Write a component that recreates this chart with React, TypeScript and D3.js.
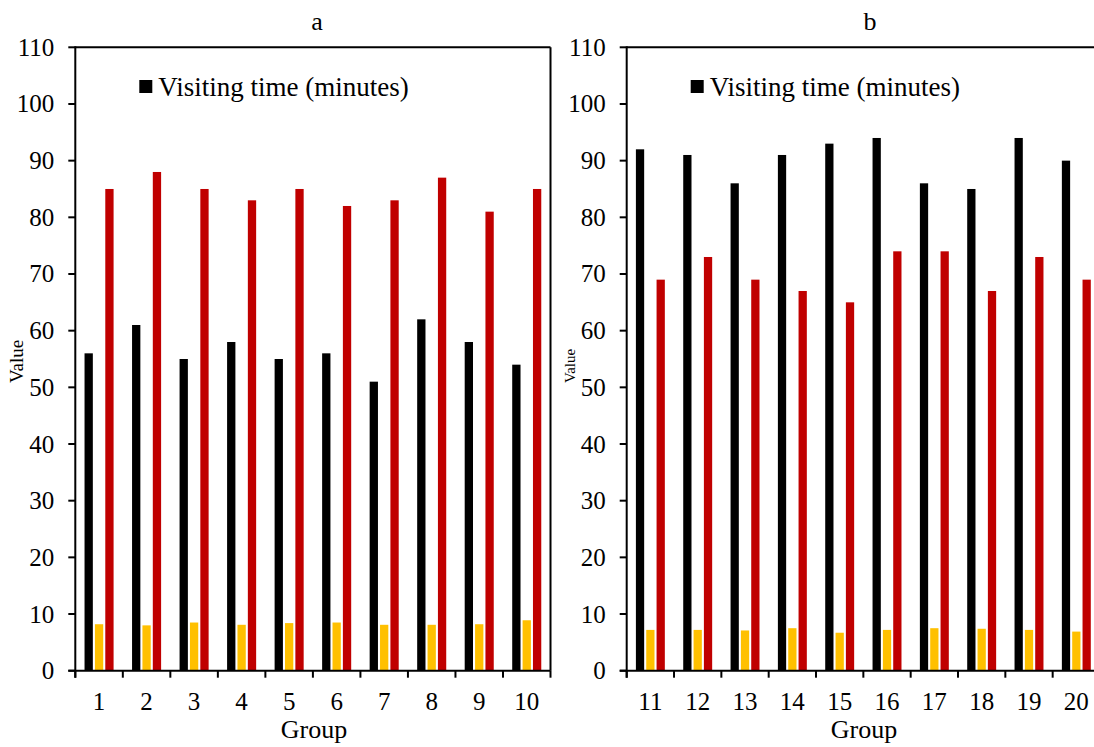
import React from "react";
import * as d3 from "d3";

const groupsA = ["1", "2", "3", "4", "5", "6", "7", "8", "9", "10"];
const groupsB = ["11", "12", "13", "14", "15", "16", "17", "18", "19", "20"];

const visitA = [56, 61, 55, 58, 55, 56, 51, 62, 58, 54];
const yellowA = [8.2, 8.0, 8.5, 8.1, 8.4, 8.5, 8.1, 8.1, 8.2, 8.9];
const redA = [85, 88, 85, 83, 85, 82, 83, 87, 81, 85];

const visitB = [92, 91, 86, 91, 93, 94, 86, 85, 94, 90];
const yellowB = [7.2, 7.2, 7.1, 7.5, 6.7, 7.2, 7.5, 7.4, 7.2, 6.9];
const redB = [69, 73, 69, 67, 65, 74, 74, 67, 73, 69];

const yTicks = [0, 10, 20, 30, 40, 50, 60, 70, 80, 90, 100, 110];
const seriesKeys = ["visit", "yellow", "red"];
const seriesColors: Record<string, string> = { visit: "#000000", yellow: "#FFC000", red: "#C00000" };
const legendLabel = "Visiting time (minutes)";

const FONT = "'Liberation Serif', 'Times New Roman', serif";

type PanelProps = {
  title: string;
  groups: string[];
  series: Record<string, number[]>;
  x0: number;
  x1: number;
  titleX: number;
  groupX: number;
  valueSize: number;
};

const yTop = 47.3;
const yBottom = 670.7;

function Panel({ title, groups, series, x0, x1, titleX, groupX, valueSize }: PanelProps) {
  const y = d3.scaleLinear().domain([0, 110]).range([yBottom, yTop]);
  const x = d3.scaleBand<string>().domain(groups).range([x0, x1]).paddingInner(0).paddingOuter(0);
  const inner = d3
    .scaleBand<string>()
    .domain(seriesKeys)
    .range([0, x.bandwidth()])
    .paddingInner(0.2)
    .paddingOuter(0.89);
  const boundaries = groups.map((g) => x(g) as number).concat([x1]);
  return (
    <g>
      <text x={titleX} y={30} fontSize={26} fontFamily={FONT} textAnchor="middle">
        {title}
      </text>
      {groups.map((g, i) =>
        seriesKeys.map((k) => {
          const v = series[k][i];
          return (
            <rect
              key={g + k}
              x={(x(g) as number) + (inner(k) as number)}
              y={y(v)}
              width={inner.bandwidth()}
              height={y(0) - y(v)}
              fill={seriesColors[k]}
            />
          );
        })
      )}
      <line x1={x0} x2={x1} y1={yTop} y2={yTop} stroke="#000" strokeWidth={2} />
      <line x1={x1} x2={x1} y1={yTop} y2={yBottom} stroke="#000" strokeWidth={2} />
      <line x1={x0} x2={x0} y1={yTop - 1} y2={yBottom + 7} stroke="#000" strokeWidth={2} />
      <line x1={x0 - 7} x2={x1} y1={yBottom} y2={yBottom} stroke="#000" strokeWidth={2} />
      {yTicks.map((t) => (
        <g key={t}>
          <line x1={x0 - 7} x2={x0} y1={y(t)} y2={y(t)} stroke="#000" strokeWidth={2} />
          <text
            x={x0 - 21}
            y={y(t)}
            dy="0.34em"
            fontSize={25}
            fontFamily={FONT}
            textAnchor="end"
          >
            {t}
          </text>
        </g>
      ))}
      {boundaries.map((b, i) => (
        <line key={i} x1={b} x2={b} y1={yBottom} y2={yBottom + 7} stroke="#000" strokeWidth={2} />
      ))}
      {groups.map((g) => (
        <text
          key={g}
          x={(x(g) as number) + x.bandwidth() / 2}
          y={709.5}
          fontSize={25}
          fontFamily={FONT}
          textAnchor="middle"
        >
          {g}
        </text>
      ))}
      <text x={groupX} y={738} fontSize={26} fontFamily={FONT} textAnchor="middle">
        Group
      </text>
      <text
        transform={`translate(${x0 - 52},383) rotate(-90)`}
        fontSize={valueSize}
        fontFamily={FONT}
        textAnchor="start"
      >
        Value
      </text>
      <rect x={x0 + 64} y={80} width={13} height={13} fill={seriesColors.visit} />
      <text x={x0 + 83} y={96} fontSize={27} fontFamily={FONT}>
        {legendLabel}
      </text>
    </g>
  );
}

export default function App() {
  return (
    <svg
      width={1094}
      height={747}
      style={{ position: "absolute", left: 0, top: 0, background: "#fff" }}
    >
      <rect x={0} y={0} width={1094} height={747} fill="#fff" />
      <Panel
        title="a"
        groups={groupsA}
        series={{ visit: visitA, yellow: yellowA, red: redA }}
        x0={75.3}
        x1={550.5}
        titleX={317}
        groupX={314}
        valueSize={19}
      />
      <Panel
        title="b"
        groups={groupsB}
        series={{ visit: visitB, yellow: yellowB, red: redB }}
        x0={626.7}
        x1={1100}
        titleX={870}
        groupX={864}
        valueSize={15}
      />
    </svg>
  );
}
